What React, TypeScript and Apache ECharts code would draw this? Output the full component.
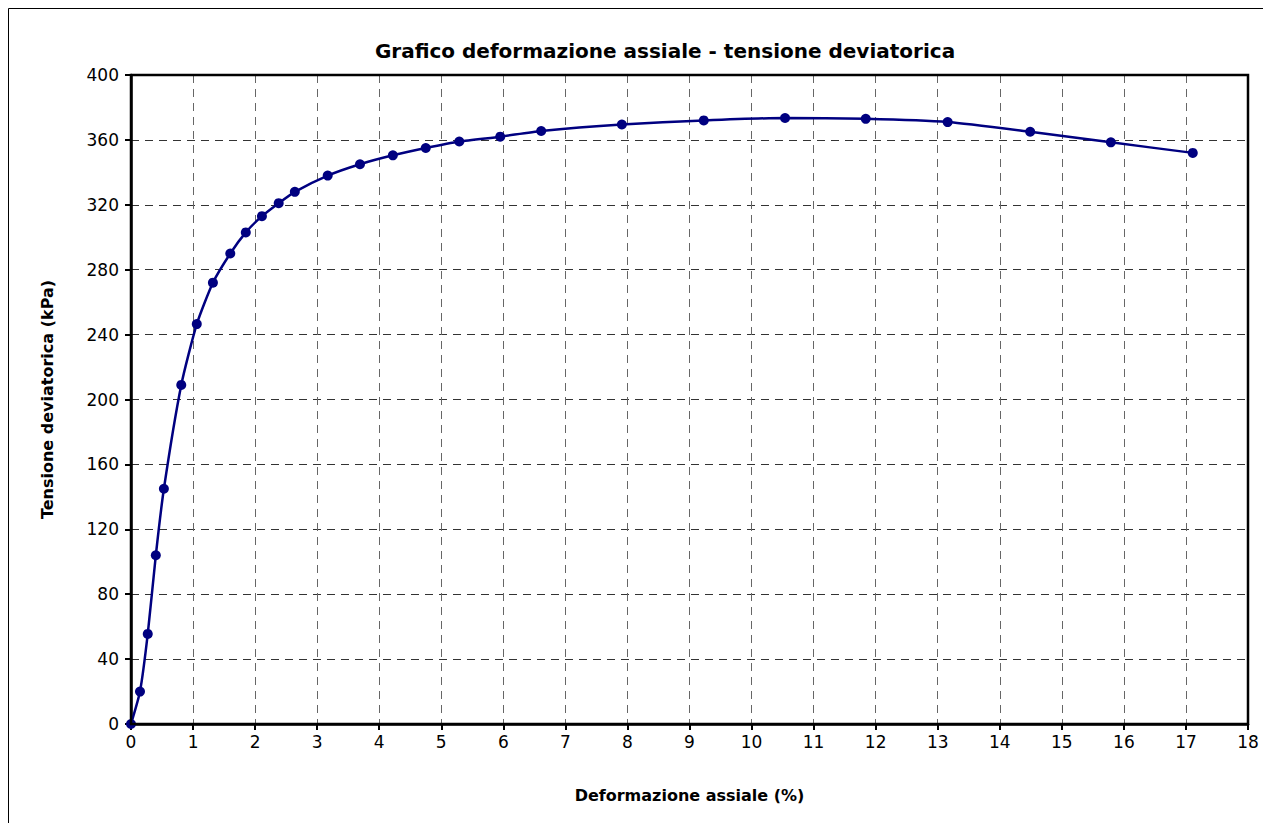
import React, { useEffect, useRef } from "react";
import * as echarts from "echarts";

const strainPct = [0, 0.145, 0.27, 0.4, 0.53, 0.81, 1.06, 1.32, 1.6, 1.85, 2.11, 2.38, 2.64, 3.17, 3.69, 4.22, 4.75, 5.29, 5.95, 6.61, 7.91, 9.23, 10.54, 11.84, 13.16, 14.49, 15.79, 17.11];
const deviatorKPa = [0, 20, 55.5, 104, 145, 209, 246.5, 272, 290, 303, 313, 321, 328, 338, 345, 350.5, 355, 359, 362, 365.5, 369.5, 372, 373.5, 373, 371, 365, 358.5, 352];

const titleText = "Grafico deformazione assiale - tensione deviatorica";
const xName = "Deformazione assiale (%)";
const yName = "Tensione deviatorica (kPa)";

const FONT = "'Comic Sans MS', 'DejaVu Sans', sans-serif";

export default function App() {
  const ref = useRef<HTMLDivElement>(null);
  useEffect(() => {
    if (!ref.current) return;
    const chart = echarts.init(ref.current, null, { renderer: "svg" });
    chart.setOption({
      animation: false,
      backgroundColor: "#ffffff",
      title: {
        text: titleText,
        left: 660,
        top: 36,
        textAlign: "center",
        textStyle: { fontFamily: FONT, fontSize: 20, fontWeight: "bold", color: "#000" },
      },
      graphic: [
        {
          type: "rect",
          shape: { x: 8.5, y: 8.5, width: 1255, height: 840 },
          style: { fill: "none", stroke: "#000", lineWidth: 1 },
          silent: true,
        },
        {
          type: "rect",
          shape: { x: 131, y: 75, width: 1117, height: 649 },
          style: { fill: "none", stroke: "#000", lineWidth: 2.5 },
          silent: true,
          z: 10,
        },
      ],
      grid: { left: 131, right: 23, top: 75, bottom: 107, containLabel: false },
      xAxis: {
        type: "value",
        min: 0,
        max: 18,
        interval: 1,
        name: xName,
        nameLocation: "middle",
        nameGap: 63,
        nameTextStyle: { fontFamily: FONT, fontSize: 16, fontWeight: "bold", color: "#000" },
        axisLine: { show: true, onZero: false, lineStyle: { color: "#000", width: 2.5 } },
        axisTick: { show: true, length: 6, lineStyle: { color: "#000", width: 2 } },
        axisLabel: { fontFamily: FONT, fontSize: 17, color: "#000", margin: 9 },
        splitLine: { show: true, lineStyle: { color: "#666", type: [8, 6], width: 1 } },
      },
      yAxis: {
        type: "value",
        min: 0,
        max: 400,
        interval: 40,
        name: yName,
        nameLocation: "middle",
        nameGap: 76,
        nameTextStyle: { fontFamily: FONT, fontSize: 16, fontWeight: "bold", color: "#000" },
        axisLine: { show: true, lineStyle: { color: "#000", width: 2.5 } },
        axisTick: { show: true, length: 6, lineStyle: { color: "#000", width: 2 } },
        axisLabel: { fontFamily: FONT, fontSize: 17, color: "#000", margin: 12 },
        splitLine: { show: true, lineStyle: { color: "#333", type: [8, 6], width: 1 } },
      },
      series: [
        {
          type: "line",
          data: strainPct.map((x, i) => [x, deviatorKPa[i]]),
          smooth: 0.2,
          symbol: "circle",
          symbolSize: 10,
          lineStyle: { color: "#000080", width: 2.5 },
          itemStyle: { color: "#000080" },
          z: 5,
        },
      ],
    });
    return () => chart.dispose();
  }, []);
  return <div ref={ref} style={{ width: 1271, height: 831, margin: -8 }} />;
}
